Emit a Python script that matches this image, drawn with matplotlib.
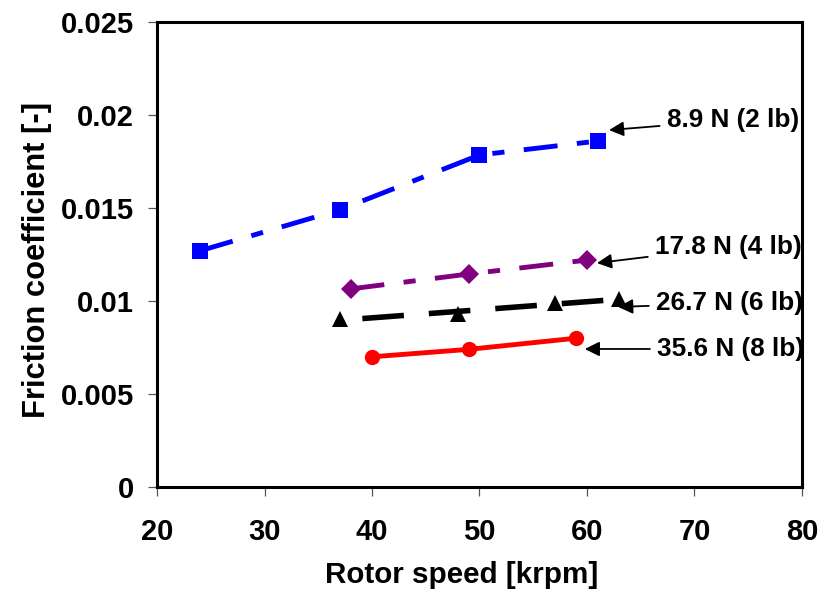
import matplotlib
matplotlib.use("Agg")
import matplotlib.pyplot as plt
import numpy as np

plt.rcParams['font.family'] = ['Liberation Sans', 'DejaVu Sans']
plt.rcParams['font.weight'] = 'bold'

# Data
x_89 = [24, 37, 50, 61]
y_89 = [0.0127, 0.0149, 0.01785, 0.0186]
x_178 = [38, 49, 60]
y_178 = [0.01065, 0.01145, 0.0122]
x_267 = [37, 48, 57, 63]
y_267 = [0.00903, 0.0093, 0.0099, 0.0101]
x_356 = [40, 49, 59]
y_356 = [0.0070, 0.0074, 0.0080]

labels = ["8.9 N (2 lb)", "17.8 N (4 lb)", "26.7 N (6 lb)", "35.6 N (8 lb)"]
arrow_tips = [(62.05, 0.01919), (60.93, 0.01204), (62.9, 0.00968), (59.8, 0.00742)]
text_pos = [(67.4, 0.01973), (66.3, 0.0129), (66.4, 0.00989), (66.5, 0.00742)]

xticks = [20, 30, 40, 50, 60, 70, 80]
yticks = [0, 0.005, 0.01, 0.015, 0.02, 0.025]
ytick_labels = ["0", "0.005", "0.01", "0.015", "0.02", "0.025"]

fig = plt.figure(figsize=(8.2, 5.9), dpi=100)
ax = fig.add_axes([0.1915, 0.1746, 0.978 - 0.1915, 0.9627 - 0.1746])

ax.plot(x_89, y_89, color='#0000FF', lw=3.5, dashes=(7, 4, 2.5, 4),
        marker='s', ms=11.5, markeredgewidth=0)
ax.plot(x_178, y_178, color='#800080', lw=3.5, dashes=(7, 4, 2.5, 4),
        marker='D', ms=10, markeredgewidth=0)
# linear trend for 26.7 N series
coef = np.polyfit(x_267, y_267, 1)
xf = np.array([min(x_267) + 2.1, max(x_267)])
ax.plot(xf, np.polyval(coef, xf), color='black', lw=4, dashes=(7.5, 4.5))
ax.plot(x_267, y_267, linestyle='none', color='black', marker='^', ms=11,
        markeredgewidth=0)
ax.plot(x_356, y_356, color='#FF0000', lw=3.5, marker='o', ms=11,
        markeredgewidth=0)

for lab, tip, tp in zip(labels, arrow_tips, text_pos):
    ax.annotate(lab, xy=tip, xytext=tp, ha='left', va='center',
                fontsize=18.8, fontweight='bold',
                arrowprops=dict(arrowstyle='-|>', mutation_scale=22,
                                lw=1.3, color='black', shrinkA=3, shrinkB=0))

ax.set_xlim(20, 80)
ax.set_ylim(0, 0.025)
ax.set_xticks(xticks)
ax.set_xticklabels([str(v) for v in xticks])
ax.set_yticks(yticks)
ax.set_yticklabels(ytick_labels)

for s in ax.spines.values():
    s.set_linewidth(2.2)
ax.tick_params(axis='both', direction='out', length=6.5, width=0.9,
               color='#555555', labelsize=21)
ax.tick_params(axis='y', pad=10)
ax.tick_params(axis='x', pad=16)
for t in ax.get_xticklabels() + ax.get_yticklabels():
    t.set_fontweight('bold')

ax.set_xlabel("Rotor speed [krpm]", fontsize=21.3, fontweight='bold')
ax.set_ylabel("Friction coefficient [-]", fontsize=22.2, fontweight='bold')
ax.xaxis.set_label_coords((462 - 157) / (802 - 157), -(583 - 487) / (487 - 22), transform=ax.transAxes)
ax.xaxis.label.set_va('baseline')
ax.yaxis.set_label_coords(-(157 - 45) / (802 - 157), (487 - 260) / (487 - 22), transform=ax.transAxes)
ax.yaxis.label.set_va('baseline')

fig.savefig("out.png", dpi=100)
